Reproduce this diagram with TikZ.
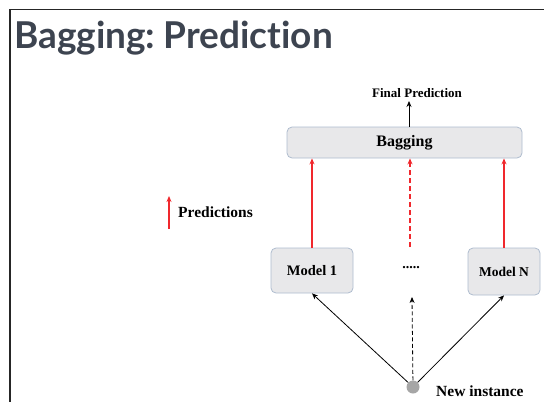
\documentclass[tikz,border=0pt]{standalone}
\usepackage{fontspec}
\setmainfont{Liberation Serif}
\newfontfamily\titlefont[Ligatures=NoCommon, WordSpace=0.6]{Lato}
\usetikzlibrary{arrows.meta}
\definecolor{titlegray}{HTML}{3D4450}
\definecolor{boxfill}{HTML}{E8E8EA}
\definecolor{boxline}{HTML}{AEBCCE}
\definecolor{predred}{HTML}{F0282D}
\tikzset{
  modelbox/.style={draw=boxline, fill=boxfill, rounded corners=5pt, line width=0.8pt},
  lbl/.style={font=\bfseries, inner sep=0pt},
  predarrow/.style={draw=predred, line width=1.1pt, -{Stealth[length=6pt,width=5pt]}},
  inarrow/.style={draw=black, line width=0.8pt, -{Stealth[length=6pt,width=5pt]}},
}
\begin{document}
\begin{tikzpicture}[x=1pt,y=-1pt]
\useasboundingbox (0,0) rectangle (544,402);
% slide frame
\draw[line width=1.2pt, black!85] (544,9.5) -- (10,9.5) -- (10,402);
% title
\node[anchor=base west, inner sep=0pt, text=titlegray, font=\titlefont\bfseries\fontsize{37}{37}\selectfont] (title) at (14,48) {Bagging: Prediction};

% aggregation box and output
\node[modelbox, minimum width=235pt, minimum height=31pt, font=\bfseries\fontsize{16}{16}\selectfont] (bag) at (404.5,142.5) {Bagging};
\node[lbl, font=\bfseries\fontsize{13}{13}\selectfont] (final) at (417,93) {Final Prediction};
\coordinate (bagtop) at (409,127);
\coordinate (finalin) at (409,101);
\draw[inarrow] (bagtop) -- (finalin);

% base models
\node[modelbox, minimum width=82pt, minimum height=45pt, font=\bfseries\fontsize{14.5}{14.5}\selectfont] (m1) at (312,270.5) {Model 1};
\node[modelbox, minimum width=72pt, minimum height=47pt, font=\bfseries\fontsize{13.5}{13.5}\selectfont] (mn) at (504,271.5) {Model N};
\node[lbl, font=\bfseries\fontsize{14}{14}\selectfont] (dots) at (411,268) {.....};

% predictions flowing up
\draw[predarrow] (m1.north) -- (m1.north |- bag.south);
\draw[predarrow] (mn.north) -- (mn.north |- bag.south);
\coordinate (dotstop) at (410,247);
\draw[predarrow, dashed, dash pattern=on 5pt off 3pt] (dotstop) -- (dotstop |- bag.south);

% legend
\coordinate (legbot) at (169,229);
\coordinate (legtop) at (169,196);
\draw[predarrow, line width=1.4pt] (legbot) -- (legtop);
\node[lbl, anchor=west, font=\bfseries\fontsize{15.5}{15.5}\selectfont] (leg) at (178,212) {Predictions};

% new instance
\node[circle, fill=black!35, minimum size=13pt, inner sep=0pt] (inst) at (413,387) {};
\node[lbl, anchor=west, font=\bfseries\fontsize{15.5}{15.5}\selectfont] (instlbl) at (436,391) {New instance};
\coordinate (dotsbot) at (412,297);
\draw[inarrow] (inst) -- (m1.south);
\draw[inarrow] (inst) -- (mn.south);
\draw[inarrow, dashed, dash pattern=on 4pt off 2.5pt] (inst) -- (dotsbot);
\end{tikzpicture}
\end{document}
